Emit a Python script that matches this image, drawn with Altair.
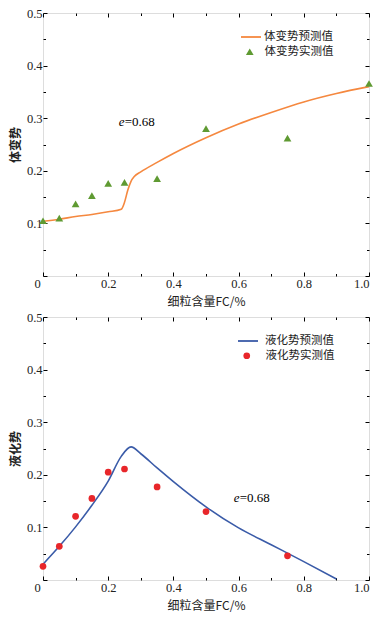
import altair as alt
import pandas as pd

# ---- data ----
fc_line_top = [0.0, 0.05, 0.10, 0.15, 0.20, 0.24, 0.25, 0.26, 0.27, 0.28, 0.30, 0.35, 0.40, 0.50, 0.60, 0.70, 0.80, 0.90, 1.00]
vol_pred = [0.104, 0.108, 0.113, 0.117, 0.122, 0.127, 0.140, 0.163, 0.180, 0.189, 0.198, 0.216, 0.233, 0.263, 0.289, 0.311, 0.331, 0.347, 0.360]
fc_meas_top = [0.0, 0.05, 0.10, 0.15, 0.20, 0.25, 0.35, 0.50, 0.75, 1.00]
vol_meas = [0.105, 0.110, 0.137, 0.153, 0.176, 0.178, 0.185, 0.280, 0.262, 0.366]

fc_line_bot = [0.0, 0.05, 0.10, 0.15, 0.20, 0.24, 0.27, 0.30, 0.35, 0.40, 0.50, 0.60, 0.70, 0.80, 0.90]
liq_pred = [0.030, 0.064, 0.101, 0.142, 0.188, 0.235, 0.253, 0.240, 0.213, 0.187, 0.139, 0.099, 0.067, 0.035, 0.002]
fc_meas_bot = [0.0, 0.05, 0.10, 0.15, 0.20, 0.25, 0.35, 0.50, 0.75]
liq_meas = [0.026, 0.064, 0.121, 0.155, 0.205, 0.211, 0.177, 0.130, 0.046]

x_ticks = [0.0, 0.1, 0.2, 0.3, 0.4, 0.5, 0.6, 0.7, 0.8, 0.9, 1.0]
y_ticks = [0.0, 0.05, 0.1, 0.15, 0.2, 0.25, 0.3, 0.35, 0.4, 0.45, 0.5]

SERIF = "Liberation Serif"
CJK = "Noto Sans CJK SC"
W, H = 326, 263

x_lab = "round(datum.value*10)%2==0 ? (datum.value==0 ? '0' : format(datum.value,'.1f')) : ''"
y_lab = "round(datum.value*20)%2==0 && datum.value>0 ? format(datum.value,'.1f') : ''"
x_tick = {"condition": {"test": "round(datum.value*10)%2==0", "value": -4}, "value": -2.5}
y_tick = {"condition": {"test": "round(datum.value*20)%2==0", "value": -4}, "value": -2.5}


def panel(fx, fy, mx, my, pred_name, meas_name, line_color, meas_color, shape, msize, ytitle, ex, ey, lab_shift, lx):
    line_df = pd.DataFrame({"fc": fx, "v": fy, "s": pred_name})
    meas_df = pd.DataFrame({"fc": mx, "v": my, "s": meas_name})
    txt_df = pd.DataFrame({"fc": [ex], "v": [ey]})

    xs = alt.Scale(domain=[0, 1], nice=False, zero=False)
    ys = alt.Scale(domain=[0, 0.5], nice=False, zero=False)

    xa = alt.Axis(values=x_ticks, labelExpr=x_lab, tickSize=x_tick, labelOffset=alt.expr("datum.value==0 ? -9 : 0"),
                  title="细粒含量FC/%", titleFont=CJK, titleFontSize=12, titleFontWeight="normal",
                  labelFont=SERIF, labelFontSize=12.5, labelPadding=5, titlePadding=7, grid=False,
                  domain=False, tickColor="black", labelColor="#222", titleColor="#222")
    ya = alt.Axis(values=y_ticks, labelExpr=y_lab, tickSize=y_tick,
                  title=ytitle, titleFont=CJK, titleFontSize=12, titleFontWeight="bold",
                  labelFont=SERIF, labelFontSize=12.5, labelPadding=5, titlePadding=4, grid=False,
                  domain=False, tickColor="black", labelColor="#222", titleColor="#222")
    xa2 = alt.Axis(values=x_ticks, labels=False, tickSize=x_tick, title=None, grid=False, domain=False,
                   orient="top", tickColor="black")
    ya2 = alt.Axis(values=y_ticks, labels=False, tickSize=y_tick, title=None, grid=False, domain=False,
                   orient="right", tickColor="black")

    line = alt.Chart(line_df).mark_line(strokeWidth=1.6, interpolate="monotone").encode(
        x=alt.X("fc:Q", scale=xs, axis=xa),
        y=alt.Y("v:Q", scale=ys, axis=ya),
        color=alt.Color("s:N", scale=alt.Scale(domain=[pred_name], range=[line_color]),
                        legend=alt.Legend(orient="none", legendX=lx, legendY=13, title=None, padding=0,
                                          symbolType="stroke", symbolSize=400, symbolStrokeWidth=1.8,
                                          labelFont=CJK, labelFontSize=11.5, labelOffset=2 + lab_shift,
                                          labelColor="#222")),
    )
    pts = alt.Chart(meas_df).mark_point(filled=True, opacity=1, size=msize, color=meas_color).encode(
        x=alt.X("fc:Q", scale=xs, axis=xa2),
        y=alt.Y("v:Q", scale=ys, axis=ya2),
        shape=alt.Shape("s:N", scale=alt.Scale(domain=[meas_name], range=[shape]),
                        legend=alt.Legend(orient="none", legendX=lx + 4, legendY=33, title=None, padding=0,
                                          symbolSize=msize, labelFont=CJK, labelFontSize=11.5,
                                          labelOffset=9 + lab_shift, labelColor="#222")),
    )
    t_e = alt.Chart(txt_df).mark_text(text="e", font=SERIF, fontSize=13, fontStyle="italic",
                                      align="left", baseline="middle").encode(
        x=alt.X("fc:Q", scale=xs, axis=None), y=alt.Y("v:Q", scale=ys, axis=None))
    t_v = alt.Chart(txt_df).mark_text(text="=0.68", font=SERIF, fontSize=13,
                                      align="left", baseline="middle", dx=6).encode(
        x=alt.X("fc:Q", scale=xs, axis=None), y=alt.Y("v:Q", scale=ys, axis=None))
    return alt.layer(line, pts, t_e, t_v).resolve_axis(x="independent", y="independent").properties(
        width=W, height=H)


top = panel(fc_line_top, vol_pred, fc_meas_top, vol_meas, "体变势预测值", "体变势实测值",
            "#F5883F", "#5F9A32", "triangle-up", 60, "体变势", 0.232, 0.293, 0, 197)
bot = panel(fc_line_bot, liq_pred, fc_meas_bot, liq_meas, "液化势预测值", "液化势实测值",
            "#3A5BA8", "#E8262A", "circle", 45, "液化势", 0.585, 0.155, 4, 194)

chart = alt.vconcat(top, bot, spacing=2).resolve_scale(color="independent", shape="independent").configure_view(
    stroke="black", strokeWidth=1.2).configure(background="white", padding={"left": 0, "top": -2, "right": 0, "bottom": 0})

chart.save("out.html", embed_options={"renderer": "svg", "actions": False})
